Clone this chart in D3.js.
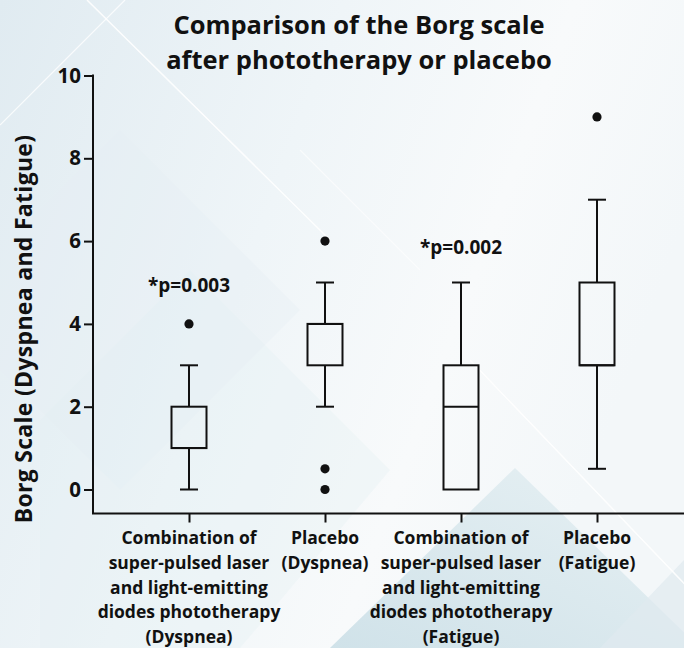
<!DOCTYPE html>
<html>
<head>
<meta charset="utf-8">
<script src="https://cdn.jsdelivr.net/npm/d3@7"></script>
<style>
  html, body { margin: 0; padding: 0; background: #fff; }
  svg { display: block; }
  text { font-family: "Open Sans", "Noto Sans", sans-serif; font-weight: 700; fill: #111; }
</style>
</head>
<body>
<svg id="chart" width="684" height="648"></svg>
<script>
// ---------- data ----------
const categories = ["Laser+LED (Dyspnea)", "Placebo (Dyspnea)", "Laser+LED (Fatigue)", "Placebo (Fatigue)"];
const categoryLines = [
  ["Combination of", "super-pulsed laser", "and light-emitting", "diodes phototherapy", "(Dyspnea)"],
  ["Placebo", "(Dyspnea)"],
  ["Combination of", "super-pulsed laser", "and light-emitting", "diodes phototherapy", "(Fatigue)"],
  ["Placebo", "(Fatigue)"]
];
const whiskerLow  = [0, 2, 0, 0.5];
const q1          = [1, 3, 0, 3];
const median      = [1, 4, 2, 3];
const q3          = [2, 4, 3, 5];
const whiskerHigh = [3, 5, 5, 7];
const outliers    = [[4], [6, 0.5, 0], [], [9]];
const pLabels     = ["*p=0.003", null, "*p=0.002", null];
const pLabelValue = [4.78, null, 5.68, null];
const yTicks      = [0, 2, 4, 6, 8, 10];
const titleLines  = ["Comparison of the Borg scale", "after phototherapy or placebo"];
const yTitle      = "Borg Scale (Dyspnea and Fatigue)";

// ---------- setup ----------
const W = 684, H = 648;
const svg = d3.select("#chart");

// background
const defs = svg.append("defs");
const bg = defs.append("linearGradient").attr("id", "bg").attr("x1", 0).attr("y1", 0).attr("x2", 1).attr("y2", 0.35);
bg.append("stop").attr("offset", "0%").attr("stop-color", "#e0ebf1");
bg.append("stop").attr("offset", "45%").attr("stop-color", "#eff5f8");
bg.append("stop").attr("offset", "75%").attr("stop-color", "#f8fafb");
bg.append("stop").attr("offset", "100%").attr("stop-color", "#f3f7f9");
const tri = defs.append("linearGradient").attr("id", "tri").attr("x1", 0).attr("y1", 1).attr("x2", 1).attr("y2", 0);
tri.append("stop").attr("offset", "0%").attr("stop-color", "#c9dee6");
tri.append("stop").attr("offset", "100%").attr("stop-color", "#e6f0f3");

svg.append("rect").attr("width", W).attr("height", H).attr("fill", "url(#bg)");
const deco = svg.append("g");
deco.append("path").attr("d", "M0,250 L120,130 L300,310 L120,490 L0,370 Z").attr("fill", "#e4eef3").attr("opacity", 0.35);
deco.append("path").attr("d", "M40,420 L190,270 L390,470 L240,648 L40,648 Z").attr("fill", "#e2edf2").attr("opacity", 0.3);
deco.append("path").attr("d", "M330,648 L515,468 L700,648 Z").attr("fill", "url(#tri)").attr("opacity", 0.85);
deco.append("path").attr("d", "M600,648 L684,560 L684,648 Z").attr("fill", "#dfeaef").attr("opacity", 0.7);
deco.append("line").attr("x1", 87).attr("y1", 0).attr("x2", 330).attr("y2", 240).attr("stroke", "#fff").attr("stroke-width", 1.5).attr("opacity", 0.9);
deco.append("line").attr("x1", 0).attr("y1", 125).attr("x2", 125).attr("y2", 0).attr("stroke", "#fff").attr("stroke-width", 1.2).attr("opacity", 0.8);
deco.append("line").attr("x1", 470).attr("y1", 360).attr("x2", 700).attr("y2", 600).attr("stroke", "#fff").attr("stroke-width", 1.5).attr("opacity", 0.9);
deco.append("line").attr("x1", 300).attr("y1", 150).attr("x2", 420).attr("y2", 270).attr("stroke", "#fff").attr("stroke-width", 1.2).attr("opacity", 0.6);

// scales
const y = d3.scaleLinear().domain([0, 10]).range([489.5, 75.5]);
const yMin = -0.58;
const x = d3.scalePoint().domain(categories).range([189, 597]);
const axisX0 = 93, axisX1 = 684;
const boxW = 35, capW = 18;
const ink = "#111";

// y axis
const yAxis = svg.append("g").attr("transform", `translate(${axisX0},0)`)
  .call(d3.axisLeft(y).tickValues(yTicks).tickSize(9).tickPadding(3).tickFormat(d3.format("d")));
yAxis.select(".domain").remove();
yAxis.selectAll(".tick line").attr("stroke", ink).attr("stroke-width", 2);
yAxis.selectAll(".tick text").attr("font-size", 20.5).attr("font-family", null).attr("fill", ink);
svg.append("line").attr("x1", axisX0).attr("x2", axisX0).attr("y1", y(10) - 1).attr("y2", y(yMin))
  .attr("stroke", ink).attr("stroke-width", 2);

// x axis
const xAxisY = y(yMin);
const xAxis = svg.append("g").attr("transform", `translate(0,${xAxisY})`)
  .call(d3.axisBottom(x).tickSize(9).tickFormat(""));
xAxis.select(".domain").remove();
xAxis.selectAll(".tick line").attr("stroke", ink).attr("stroke-width", 2);
svg.append("line").attr("x1", axisX0 - 1).attr("x2", axisX1).attr("y1", xAxisY).attr("y2", xAxisY)
  .attr("stroke", ink).attr("stroke-width", 2);

// category labels
categories.forEach((c, i) => {
  const t = svg.append("text").attr("text-anchor", "middle").attr("font-size", 17.5);
  categoryLines[i].forEach((ln, j) => {
    t.append("tspan").attr("x", x(c)).attr("y", 544 + j * 24.8).text(ln);
  });
});

// boxes
const g = svg.append("g").attr("fill", "none").attr("stroke", ink).attr("stroke-width", 2);
categories.forEach((c, i) => {
  const cx = x(c);
  if (whiskerHigh[i] > q3[i]) {
    g.append("line").attr("x1", cx).attr("x2", cx).attr("y1", y(q3[i])).attr("y2", y(whiskerHigh[i]));
    g.append("line").attr("x1", cx - capW / 2).attr("x2", cx + capW / 2).attr("y1", y(whiskerHigh[i])).attr("y2", y(whiskerHigh[i]));
  }
  if (whiskerLow[i] < q1[i]) {
    g.append("line").attr("x1", cx).attr("x2", cx).attr("y1", y(q1[i])).attr("y2", y(whiskerLow[i]));
    g.append("line").attr("x1", cx - capW / 2).attr("x2", cx + capW / 2).attr("y1", y(whiskerLow[i])).attr("y2", y(whiskerLow[i]));
  }
  g.append("rect").attr("x", cx - boxW / 2).attr("y", y(q3[i])).attr("width", boxW)
    .attr("height", y(q1[i]) - y(q3[i])).attr("fill", "none");
  g.append("line").attr("x1", cx - boxW / 2).attr("x2", cx + boxW / 2).attr("y1", y(median[i])).attr("y2", y(median[i]));
  outliers[i].forEach(v => {
    svg.append("circle").attr("cx", cx).attr("cy", y(v)).attr("r", 4.6).attr("fill", ink);
  });
  if (pLabels[i]) {
    svg.append("text").attr("x", cx).attr("y", y(pLabelValue[i])).attr("text-anchor", "middle")
      .attr("font-size", 19).text(pLabels[i]);
  }
});

// title
const title = svg.append("text").attr("text-anchor", "middle").attr("font-size", 25.5);
titleLines.forEach((ln, j) => title.append("tspan").attr("x", 359).attr("y", 34 + j * 35).text(ln));

// y title
svg.append("text").attr("transform", "translate(32,329) rotate(-90)").attr("text-anchor", "middle")
  .attr("font-size", 23).attr("letter-spacing", 0.3).text(yTitle);
</script>
</body>
</html>
